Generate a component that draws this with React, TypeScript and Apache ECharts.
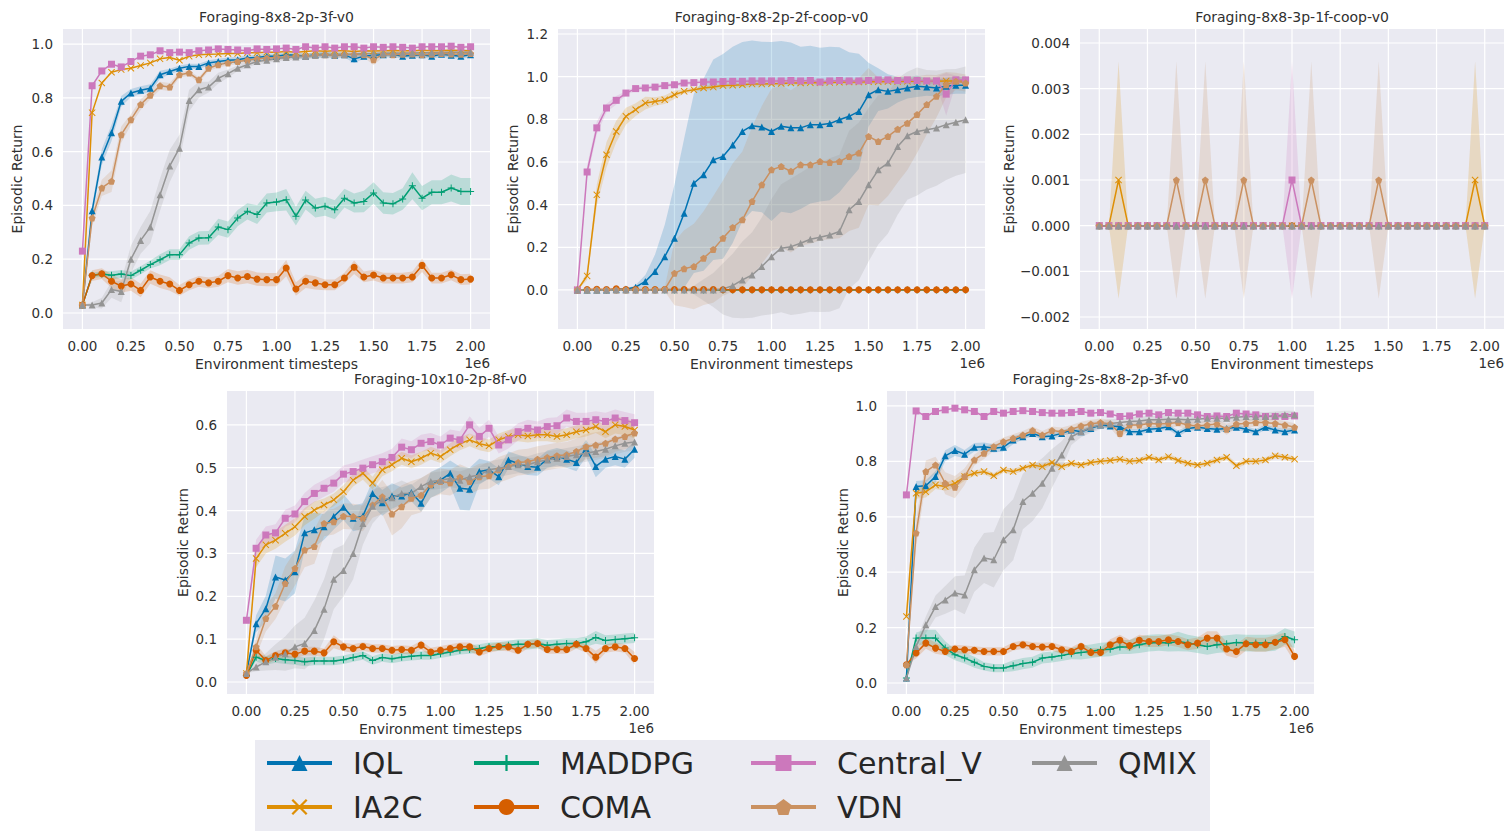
import { useEffect, useRef } from "react";
import * as echarts from "echarts";

const FONT = "'DejaVu Sans', sans-serif";
const TEXT_COLOR = "#303030";

// timesteps (x 1e6)
const STEPS = [0, 0.05, 0.1, 0.15, 0.2, 0.25, 0.3, 0.35, 0.4, 0.45, 0.5, 0.55, 0.6, 0.65, 0.7, 0.75, 0.8, 0.85, 0.9, 0.95, 1.0,
  1.05, 1.1, 1.15, 1.2, 1.25, 1.3, 1.35, 1.4, 1.45, 1.5, 1.55, 1.6, 1.65, 1.7, 1.75, 1.8, 1.85, 1.9, 1.95, 2.0];
const X_TICKS = [0, 0.25, 0.5, 0.75, 1.0, 1.25, 1.5, 1.75, 2.0];
const Y_TICKS_1 = [0, 0.2, 0.4, 0.6, 0.8, 1.0];
const Y_TICKS_2 = [0, 0.2, 0.4, 0.6, 0.8, 1.0, 1.2];
const Y_TICKS_3 = [-0.002, -0.001, 0, 0.001, 0.002, 0.003, 0.004];
const Y_TICKS_4 = [0, 0.1, 0.2, 0.3, 0.4, 0.5, 0.6];
const Y_TICKS_5 = [0, 0.2, 0.4, 0.6, 0.8, 1.0];

const NAMES = ["IQL", "IA2C", "MADDPG", "COMA", "Central_V", "VDN", "QMIX"];
const COLORS: Record<string, string> = {
  IQL: "#0173B2", IA2C: "#DE8F05", MADDPG: "#029E73", COMA: "#D55E00",
  Central_V: "#CC78BC", VDN: "#CA9161", QMIX: "#949494",
};
const SYMBOLS: Record<string, string> = {
  IQL: "triangle",
  IA2C: "path://M1,0L5,4L9,0L10,1L6,5L10,9L9,10L5,6L1,10L0,9L4,5L0,1Z",
  MADDPG: "path://M4.3,0H5.7V4.3H10V5.7H5.7V10H4.3V5.7H0V4.3H4.3Z",
  COMA: "circle",
  Central_V: "rect",
  VDN: "path://M5,0L10,3.8L8.1,10L1.9,10L0,3.8Z",
  QMIX: "triangle",
};

// ---------- Panel 1: Foraging-8x8-2p-3f-v0 ----------
const p1IQL = [0.03, 0.38, 0.58, 0.67, 0.787, 0.818, 0.828, 0.836, 0.886, 0.898, 0.91, 0.917, 0.917, 0.93, 0.935, 0.94, 0.942, 0.948, 0.95, 0.955, 0.955,
  0.96, 0.958, 0.955, 0.96, 0.962, 0.958, 0.96, 0.945, 0.955, 0.958, 0.96, 0.962, 0.955, 0.958, 0.96, 0.955, 0.962, 0.958, 0.955, 0.96];
const p1IA2C = [0.03, 0.745, 0.855, 0.895, 0.905, 0.91, 0.92, 0.93, 0.945, 0.95, 0.94, 0.955, 0.96, 0.962, 0.963, 0.965, 0.965, 0.968, 0.968, 0.97, 0.97,
  0.972, 0.97, 0.972, 0.975, 0.973, 0.975, 0.975, 0.972, 0.975, 0.974, 0.975, 0.976, 0.975, 0.975, 0.977, 0.975, 0.976, 0.977, 0.976, 0.975];
const p1MADDPG = [0.03, 0.14, 0.145, 0.14, 0.145, 0.139, 0.159, 0.18, 0.198, 0.217, 0.217, 0.26, 0.279, 0.28, 0.32, 0.31, 0.353, 0.378, 0.366, 0.409, 0.413,
  0.421, 0.36, 0.42, 0.39, 0.397, 0.384, 0.427, 0.409, 0.415, 0.446, 0.409, 0.406, 0.424, 0.473, 0.427, 0.449, 0.449, 0.465, 0.452, 0.452];
const p1COMA = [0.03, 0.139, 0.146, 0.118, 0.1, 0.108, 0.084, 0.134, 0.118, 0.108, 0.084, 0.105, 0.118, 0.112, 0.118, 0.139, 0.13, 0.136, 0.126, 0.124, 0.124,
  0.167, 0.089, 0.118, 0.112, 0.105, 0.105, 0.13, 0.17, 0.134, 0.141, 0.13, 0.13, 0.13, 0.134, 0.177, 0.13, 0.13, 0.142, 0.124, 0.126];
const p1CentralV = [0.23, 0.845, 0.9, 0.925, 0.915, 0.935, 0.955, 0.96, 0.975, 0.968, 0.97, 0.968, 0.975, 0.978, 0.982, 0.98, 0.978, 0.975, 0.982, 0.98, 0.982,
  0.985, 0.98, 0.99, 0.985, 0.99, 0.985, 0.99, 0.99, 0.985, 0.99, 0.988, 0.99, 0.988, 0.985, 0.99, 0.99, 0.99, 0.992, 0.988, 0.99];
const p1VDN = [0.03, 0.353, 0.465, 0.49, 0.663, 0.719, 0.775, 0.81, 0.845, 0.84, 0.886, 0.892, 0.867, 0.91, 0.923, 0.93, 0.935, 0.94, 0.945, 0.948, 0.95,
  0.952, 0.955, 0.955, 0.958, 0.96, 0.958, 0.96, 0.962, 0.96, 0.942, 0.962, 0.96, 0.962, 0.963, 0.96, 0.962, 0.965, 0.963, 0.962, 0.965];
const p1QMIX = [0.03, 0.03, 0.037, 0.087, 0.08, 0.2, 0.27, 0.32, 0.44, 0.547, 0.613, 0.79, 0.83, 0.84, 0.873, 0.89, 0.91, 0.923, 0.935, 0.94, 0.945,
  0.95, 0.952, 0.955, 0.958, 0.96, 0.962, 0.962, 0.963, 0.965, 0.965, 0.966, 0.966, 0.967, 0.967, 0.968, 0.968, 0.969, 0.97, 0.97, 0.97];
const p1IQL_sd = [0, 0.02, 0.03, 0.03, 0.02, 0.015, 0.015, 0.015, 0.015, 0.01, 0.01, 0.01, 0.01, 0.01, 0.01, 0.01, 0.01, 0.01, 0.01, 0.01, 0.01,
  0.01, 0.01, 0.01, 0.01, 0.01, 0.01, 0.01, 0.015, 0.01, 0.01, 0.01, 0.01, 0.01, 0.01, 0.01, 0.01, 0.01, 0.01, 0.01, 0.01];
const p1MADDPG_sd = [0, 0.01, 0.01, 0.015, 0.015, 0.015, 0.015, 0.015, 0.02, 0.02, 0.02, 0.025, 0.025, 0.025, 0.03, 0.03, 0.03, 0.03, 0.035, 0.035, 0.035,
  0.04, 0.035, 0.035, 0.035, 0.035, 0.035, 0.035, 0.035, 0.04, 0.04, 0.04, 0.04, 0.04, 0.05, 0.045, 0.045, 0.045, 0.05, 0.05, 0.05];
const p1COMA_sd = [0, 0.02, 0.02, 0.025, 0.025, 0.025, 0.025, 0.025, 0.025, 0.025, 0.02, 0.02, 0.02, 0.02, 0.02, 0.025, 0.025, 0.025, 0.025, 0.025, 0.025,
  0.03, 0.025, 0.025, 0.025, 0.02, 0.02, 0.02, 0.025, 0.02, 0.02, 0.02, 0.02, 0.02, 0.02, 0.025, 0.02, 0.02, 0.02, 0.02, 0.02];
const p1VDN_sd = [0, 0.03, 0.03, 0.04, 0.03, 0.02, 0.02, 0.015, 0.015, 0.015, 0.01, 0.01, 0.01, 0.01, 0.01, 0.01, 0.01, 0.01, 0.01, 0.01, 0.01,
  0.01, 0.01, 0.01, 0.01, 0.01, 0.01, 0.01, 0.01, 0.01, 0.02, 0.01, 0.01, 0.01, 0.01, 0.01, 0.01, 0.01, 0.01, 0.01, 0.01];
const p1QMIX_sd = [0, 0.01, 0.02, 0.03, 0.04, 0.05, 0.05, 0.06, 0.06, 0.06, 0.05, 0.04, 0.03, 0.02, 0.02, 0.015, 0.01, 0.01, 0.01, 0.01, 0.01,
  0.01, 0.01, 0.01, 0.01, 0.01, 0.01, 0.01, 0.01, 0.01, 0.01, 0.01, 0.01, 0.01, 0.01, 0.01, 0.01, 0.01, 0.01, 0.01, 0.01];

// ---------- Panel 2: Foraging-8x8-2p-2f-coop-v0 ----------
const p2IQL = [0, 0, 0, 0, 0.003, 0.005, 0.013, 0.04, 0.086, 0.156, 0.243, 0.36, 0.5, 0.54, 0.61, 0.626, 0.68, 0.743, 0.77, 0.764, 0.743,
  0.767, 0.76, 0.76, 0.775, 0.775, 0.78, 0.798, 0.814, 0.837, 0.915, 0.939, 0.931, 0.939, 0.947, 0.955, 0.951, 0.947, 0.955, 0.96, 0.96];
const p2IA2C = [0, 0.066, 0.446, 0.634, 0.743, 0.814, 0.845, 0.876, 0.884, 0.892, 0.915, 0.931, 0.939, 0.947, 0.951, 0.958, 0.96, 0.962, 0.965, 0.965, 0.967,
  0.968, 0.97, 0.97, 0.972, 0.972, 0.973, 0.974, 0.975, 0.975, 0.976, 0.976, 0.977, 0.977, 0.978, 0.978, 0.978, 0.979, 0.98, 0.98, 0.98];
const p2MADDPG = [0, 0, 0, 0, 0, 0, 0, 0, 0, 0, 0, 0, 0, 0, 0, 0, 0, 0, 0, 0, 0,
  0, 0, 0, 0, 0, 0, 0, 0, 0, 0, 0, 0, 0, 0, 0, 0, 0, 0, 0, 0];
const p2COMA = [0, 0.002, 0.003, 0.002, 0.005, 0.002, 0.002, 0.002, 0.002, 0.002, 0.002, 0.002, 0.002, 0.002, 0.002, 0.001, 0.001, 0.001, 0.001, 0.001, 0.001,
  0.001, 0.001, 0.001, 0.001, 0.001, 0.001, 0.001, 0.001, 0.001, 0.001, 0.001, 0.001, 0.001, 0.001, 0.001, 0.001, 0.001, 0.001, 0.001, 0.001];
const p2CentralV = [0, 0.553, 0.76, 0.853, 0.889, 0.923, 0.944, 0.947, 0.951, 0.958, 0.962, 0.97, 0.972, 0.975, 0.975, 0.977, 0.978, 0.978, 0.98, 0.98, 0.98,
  0.98, 0.982, 0.98, 0.982, 0.975, 0.98, 0.982, 0.98, 0.98, 0.982, 0.985, 0.985, 0.982, 0.985, 0.982, 0.98, 0.98, 0.918, 0.985, 0.985];
const p2VDN = [0, 0, 0, 0, 0, 0, 0, 0, 0, 0.003, 0.078, 0.1, 0.11, 0.149, 0.19, 0.243, 0.293, 0.329, 0.415, 0.493, 0.563,
  0.579, 0.556, 0.587, 0.587, 0.602, 0.598, 0.602, 0.626, 0.642, 0.72, 0.696, 0.72, 0.754, 0.782, 0.822, 0.869, 0.908, 0.962, 0.978, 0.97];
const p2QMIX = [0, 0, 0, 0, 0, 0, 0, 0, 0, 0, 0, 0, 0, 0, 0, 0.005, 0.02, 0.047, 0.07, 0.11, 0.156,
  0.196, 0.203, 0.219, 0.238, 0.247, 0.258, 0.274, 0.376, 0.415, 0.493, 0.563, 0.595, 0.673, 0.723, 0.743, 0.751, 0.759, 0.775, 0.786, 0.798];
const p2IQL_sd = [0, 0, 0, 0, 0, 0, 0.01, 0.03, 0.08, 0.15, 0.25, 0.35, 0.42, 0.45, 0.47, 0.48, 0.46, 0.42, 0.4, 0.4, 0.42,
  0.4, 0.4, 0.38, 0.37, 0.36, 0.36, 0.34, 0.3, 0.27, 0.15, 0.1, 0.08, 0.06, 0.05, 0.05, 0.04, 0.04, 0.04, 0.04, 0.04];
const p2IA2C_sd = [0, 0.02, 0.05, 0.06, 0.05, 0.04, 0.03, 0.03, 0.02, 0.02, 0.02, 0.01, 0.01, 0.01, 0.01, 0.01, 0.01, 0.01, 0.01, 0.01, 0.01,
  0.01, 0.01, 0.01, 0.01, 0.01, 0.01, 0.01, 0.01, 0.01, 0.01, 0.01, 0.01, 0.01, 0.01, 0.01, 0.01, 0.01, 0.01, 0.01, 0.01];
const p2CentralV_sd = [0, 0.03, 0.03, 0.02, 0.02, 0.01, 0.01, 0.01, 0.01, 0.01, 0.01, 0.01, 0.01, 0.01, 0.01, 0.01, 0.01, 0.01, 0.01, 0.01, 0.01,
  0.01, 0.01, 0.01, 0.01, 0.01, 0.01, 0.01, 0.01, 0.01, 0.01, 0.01, 0.01, 0.01, 0.01, 0.01, 0.01, 0.02, 0.1, 0.02, 0.01];
const p2VDN_sd = [0, 0, 0, 0, 0, 0, 0, 0, 0, 0.01, 0.15, 0.18, 0.2, 0.22, 0.25, 0.27, 0.3, 0.32, 0.35, 0.37, 0.38,
  0.38, 0.38, 0.38, 0.37, 0.37, 0.36, 0.36, 0.35, 0.35, 0.32, 0.3, 0.28, 0.25, 0.22, 0.18, 0.14, 0.1, 0.06, 0.04, 0.04];
const p2QMIX_sd = [0, 0, 0, 0, 0, 0, 0, 0, 0, 0, 0, 0, 0.02, 0.05, 0.08, 0.12, 0.15, 0.18, 0.2, 0.23, 0.27,
  0.3, 0.32, 0.33, 0.34, 0.35, 0.36, 0.36, 0.37, 0.37, 0.36, 0.35, 0.33, 0.32, 0.3, 0.3, 0.28, 0.27, 0.26, 0.25, 0.25];

// ---------- Panel 3: Foraging-8x8-3p-1f-coop-v0 ----------
const p3IQL = [0, 0, 0, 0, 0, 0, 0, 0, 0, 0, 0, 0, 0, 0, 0, 0, 0, 0, 0, 0, 0,
  0, 0, 0, 0, 0, 0, 0, 0, 0, 0, 0, 0, 0, 0, 0, 0, 0, 0, 0, 0];
const p3IA2C = [0, 0, 0.001, 0, 0, 0, 0, 0, 0, 0, 0, 0, 0, 0, 0, 0, 0, 0, 0, 0, 0,
  0, 0, 0, 0, 0, 0, 0, 0, 0, 0, 0, 0, 0, 0, 0, 0, 0, 0, 0.001, 0];
const p3MADDPG = [0, 0, 0, 0, 0, 0, 0, 0, 0, 0, 0, 0, 0, 0, 0, 0, 0, 0, 0, 0, 0,
  0, 0, 0, 0, 0, 0, 0, 0, 0, 0, 0, 0, 0, 0, 0, 0, 0, 0, 0, 0];
const p3COMA = [0, 0, 0, 0, 0, 0, 0, 0, 0, 0, 0, 0, 0, 0, 0, 0, 0, 0, 0, 0, 0,
  0, 0, 0, 0, 0, 0, 0, 0, 0, 0, 0, 0, 0, 0, 0, 0, 0, 0, 0, 0];
const p3CentralV = [0, 0, 0, 0, 0, 0, 0, 0, 0, 0, 0, 0, 0, 0, 0, 0, 0, 0, 0, 0, 0.001,
  0, 0, 0, 0, 0, 0, 0, 0, 0, 0, 0, 0, 0, 0, 0, 0, 0, 0, 0, 0];
const p3VDN = [0, 0, 0, 0, 0, 0, 0, 0, 0.001, 0, 0, 0.001, 0, 0, 0, 0.001, 0, 0, 0, 0, 0,
  0, 0.001, 0, 0, 0, 0, 0, 0, 0.001, 0, 0, 0, 0, 0, 0, 0, 0, 0, 0, 0];
const p3QMIX = [0, 0, 0, 0, 0, 0, 0, 0, 0, 0, 0, 0, 0, 0, 0, 0, 0, 0, 0, 0, 0,
  0, 0, 0, 0, 0, 0, 0, 0, 0, 0, 0, 0, 0, 0, 0, 0, 0, 0, 0, 0];
const p3IA2C_sd = [0, 0, 0.0026, 0, 0, 0, 0, 0, 0, 0, 0, 0, 0, 0, 0, 0, 0, 0, 0, 0, 0,
  0, 0, 0, 0, 0, 0, 0, 0, 0, 0, 0, 0, 0, 0, 0, 0, 0, 0, 0.0026, 0];
const p3CentralV_sd = [0, 0, 0, 0, 0, 0, 0, 0, 0, 0, 0, 0, 0, 0, 0, 0, 0, 0, 0, 0, 0.0026,
  0, 0, 0, 0, 0, 0, 0, 0, 0, 0, 0, 0, 0, 0, 0, 0, 0, 0, 0, 0];
const p3VDN_sd = [0, 0, 0, 0, 0, 0, 0, 0, 0.0026, 0, 0, 0.0026, 0, 0, 0, 0.0026, 0, 0, 0, 0, 0,
  0, 0.0026, 0, 0, 0, 0, 0, 0, 0.0026, 0, 0, 0, 0, 0, 0, 0, 0, 0, 0, 0];

// ---------- Panel 4: Foraging-10x10-2p-8f-v0 ----------
const p4IQL = [0.02, 0.136, 0.171, 0.245, 0.238, 0.257, 0.348, 0.355, 0.362, 0.386, 0.408, 0.382, 0.387, 0.44, 0.418, 0.434, 0.434, 0.442, 0.417, 0.46, 0.471,
  0.487, 0.452, 0.45, 0.491, 0.495, 0.479, 0.518, 0.51, 0.503, 0.501, 0.52, 0.526, 0.52, 0.512, 0.545, 0.503, 0.52, 0.526, 0.52, 0.543];
const p4IA2C = [0.02, 0.288, 0.32, 0.331, 0.347, 0.362, 0.386, 0.401, 0.413, 0.425, 0.444, 0.471, 0.487, 0.464, 0.495, 0.507, 0.522, 0.514, 0.522, 0.534, 0.526,
  0.542, 0.556, 0.565, 0.556, 0.551, 0.565, 0.573, 0.577, 0.574, 0.577, 0.577, 0.573, 0.577, 0.584, 0.588, 0.596, 0.584, 0.6, 0.596, 0.588];
const p4MADDPG = [0.015, 0.058, 0.05, 0.055, 0.052, 0.05, 0.047, 0.049, 0.049, 0.049, 0.052, 0.057, 0.062, 0.05, 0.057, 0.054, 0.058, 0.06, 0.062, 0.062, 0.066,
  0.07, 0.074, 0.076, 0.078, 0.082, 0.083, 0.086, 0.088, 0.088, 0.09, 0.086, 0.088, 0.09, 0.09, 0.094, 0.104, 0.097, 0.099, 0.101, 0.103];
const p4COMA = [0.015, 0.074, 0.05, 0.062, 0.068, 0.065, 0.072, 0.072, 0.068, 0.094, 0.082, 0.078, 0.083, 0.078, 0.078, 0.074, 0.076, 0.074, 0.086, 0.07, 0.074,
  0.078, 0.082, 0.082, 0.07, 0.078, 0.083, 0.082, 0.074, 0.088, 0.09, 0.076, 0.076, 0.076, 0.088, 0.078, 0.058, 0.078, 0.082, 0.078, 0.055];
const p4CentralV = [0.144, 0.312, 0.343, 0.348, 0.382, 0.392, 0.421, 0.44, 0.452, 0.464, 0.485, 0.491, 0.499, 0.507, 0.514, 0.524, 0.548, 0.542, 0.557, 0.561, 0.553,
  0.569, 0.565, 0.6, 0.573, 0.592, 0.553, 0.565, 0.584, 0.592, 0.588, 0.596, 0.598, 0.616, 0.608, 0.608, 0.612, 0.608, 0.616, 0.61, 0.605];
const p4VDN = [0.02, 0.082, 0.148, 0.177, 0.23, 0.265, 0.308, 0.316, 0.37, 0.374, 0.387, 0.386, 0.382, 0.413, 0.432, 0.392, 0.409, 0.429, 0.436, 0.46, 0.468,
  0.465, 0.478, 0.468, 0.479, 0.481, 0.495, 0.503, 0.512, 0.514, 0.52, 0.524, 0.528, 0.53, 0.538, 0.549, 0.553, 0.557, 0.567, 0.573, 0.581];
const p4QMIX = [0.02, 0.035, 0.047, 0.058, 0.066, 0.082, 0.09, 0.12, 0.17, 0.24, 0.26, 0.3, 0.37, 0.41, 0.425, 0.43, 0.44, 0.44, 0.456, 0.468, 0.471,
  0.475, 0.471, 0.479, 0.483, 0.495, 0.499, 0.503, 0.507, 0.507, 0.514, 0.518, 0.522, 0.526, 0.53, 0.534, 0.538, 0.543, 0.551, 0.557, 0.56];
const p4IQL_sd = [0, 0.02, 0.03, 0.05, 0.05, 0.05, 0.04, 0.04, 0.03, 0.03, 0.03, 0.03, 0.03, 0.03, 0.03, 0.03, 0.02, 0.02, 0.02, 0.03, 0.03,
  0.03, 0.05, 0.05, 0.03, 0.02, 0.02, 0.02, 0.02, 0.02, 0.02, 0.02, 0.02, 0.02, 0.02, 0.02, 0.025, 0.02, 0.02, 0.02, 0.02];
const p4IA2C_sd = [0, 0.02, 0.02, 0.02, 0.02, 0.02, 0.02, 0.02, 0.015, 0.015, 0.015, 0.015, 0.015, 0.015, 0.015, 0.015, 0.015, 0.015, 0.015, 0.015, 0.015,
  0.015, 0.015, 0.015, 0.015, 0.015, 0.015, 0.015, 0.015, 0.015, 0.015, 0.015, 0.015, 0.015, 0.015, 0.015, 0.015, 0.015, 0.02, 0.02, 0.02];
const p4MADDPG_sd = [0, 0.01, 0.01, 0.01, 0.01, 0.01, 0.01, 0.01, 0.01, 0.01, 0.01, 0.01, 0.01, 0.01, 0.01, 0.01, 0.01, 0.01, 0.01, 0.01, 0.01,
  0.01, 0.01, 0.01, 0.01, 0.01, 0.01, 0.01, 0.012, 0.012, 0.012, 0.012, 0.012, 0.012, 0.012, 0.012, 0.015, 0.012, 0.012, 0.012, 0.012];
const p4COMA_sd = [0, 0.015, 0.01, 0.01, 0.01, 0.01, 0.01, 0.01, 0.01, 0.015, 0.01, 0.01, 0.01, 0.01, 0.01, 0.01, 0.01, 0.01, 0.01, 0.01, 0.01,
  0.01, 0.01, 0.01, 0.01, 0.01, 0.01, 0.01, 0.01, 0.01, 0.01, 0.01, 0.01, 0.01, 0.01, 0.01, 0.015, 0.01, 0.01, 0.01, 0.015];
const p4CentralV_sd = [0, 0.02, 0.02, 0.02, 0.02, 0.02, 0.02, 0.02, 0.02, 0.02, 0.02, 0.02, 0.02, 0.02, 0.02, 0.02, 0.02, 0.02, 0.02, 0.02, 0.02,
  0.02, 0.02, 0.02, 0.02, 0.02, 0.02, 0.02, 0.02, 0.02, 0.02, 0.02, 0.02, 0.02, 0.02, 0.02, 0.02, 0.02, 0.02, 0.02, 0.02];
const p4VDN_sd = [0, 0.02, 0.03, 0.03, 0.04, 0.04, 0.04, 0.04, 0.03, 0.03, 0.03, 0.03, 0.03, 0.03, 0.04, 0.05, 0.05, 0.04, 0.04, 0.03, 0.03,
  0.03, 0.03, 0.03, 0.03, 0.03, 0.03, 0.03, 0.03, 0.03, 0.03, 0.03, 0.03, 0.03, 0.03, 0.03, 0.03, 0.03, 0.03, 0.03, 0.03];
const p4QMIX_sd = [0, 0.01, 0.02, 0.03, 0.04, 0.05, 0.06, 0.07, 0.07, 0.07, 0.06, 0.06, 0.05, 0.04, 0.03, 0.03, 0.03, 0.02, 0.02, 0.02, 0.02,
  0.02, 0.02, 0.02, 0.02, 0.02, 0.02, 0.02, 0.02, 0.02, 0.02, 0.02, 0.02, 0.02, 0.02, 0.02, 0.02, 0.02, 0.02, 0.02, 0.02];

// ---------- Panel 5: Foraging-2s-8x8-2p-3f-v0 ----------
const p5IQL = [0.018, 0.709, 0.712, 0.745, 0.82, 0.839, 0.826, 0.851, 0.853, 0.847, 0.851, 0.877, 0.889, 0.901, 0.889, 0.892, 0.901, 0.913, 0.907, 0.919, 0.931,
  0.928, 0.925, 0.907, 0.907, 0.916, 0.919, 0.925, 0.901, 0.919, 0.923, 0.919, 0.916, 0.919, 0.923, 0.916, 0.907, 0.923, 0.913, 0.907, 0.913];
const p5IA2C = [0.24, 0.685, 0.69, 0.715, 0.709, 0.72, 0.745, 0.757, 0.763, 0.748, 0.769, 0.763, 0.775, 0.787, 0.781, 0.796, 0.781, 0.793, 0.787, 0.796, 0.8,
  0.803, 0.808, 0.8, 0.803, 0.815, 0.805, 0.817, 0.803, 0.793, 0.787, 0.793, 0.805, 0.815, 0.784, 0.8, 0.8, 0.805, 0.82, 0.815, 0.808];
const p5MADDPG = [0.018, 0.162, 0.162, 0.162, 0.126, 0.102, 0.09, 0.075, 0.06, 0.054, 0.054, 0.062, 0.07, 0.075, 0.09, 0.094, 0.099, 0.106, 0.11, 0.114, 0.12,
  0.122, 0.13, 0.13, 0.138, 0.144, 0.146, 0.144, 0.15, 0.144, 0.138, 0.132, 0.138, 0.142, 0.146, 0.144, 0.144, 0.144, 0.146, 0.168, 0.156];
const p5COMA = [0.066, 0.108, 0.144, 0.126, 0.114, 0.123, 0.12, 0.118, 0.114, 0.114, 0.114, 0.132, 0.138, 0.132, 0.13, 0.132, 0.12, 0.114, 0.132, 0.11, 0.11,
  0.138, 0.154, 0.135, 0.154, 0.15, 0.15, 0.156, 0.15, 0.138, 0.144, 0.162, 0.162, 0.123, 0.114, 0.142, 0.138, 0.138, 0.147, 0.156, 0.096];
const p5CentralV = [0.679, 0.982, 0.962, 0.98, 0.986, 0.992, 0.986, 0.98, 0.962, 0.98, 0.974, 0.98, 0.983, 0.98, 0.976, 0.974, 0.974, 0.976, 0.98, 0.974, 0.976,
  0.971, 0.962, 0.964, 0.971, 0.974, 0.968, 0.976, 0.974, 0.974, 0.968, 0.962, 0.964, 0.962, 0.974, 0.971, 0.968, 0.962, 0.962, 0.962, 0.964];
const p5VDN = [0.066, 0.541, 0.763, 0.787, 0.721, 0.707, 0.745, 0.805, 0.829, 0.853, 0.871, 0.883, 0.895, 0.911, 0.895, 0.911, 0.907, 0.916, 0.928, 0.935, 0.94,
  0.935, 0.901, 0.931, 0.931, 0.937, 0.935, 0.937, 0.94, 0.931, 0.928, 0.931, 0.935, 0.916, 0.935, 0.937, 0.94, 0.94, 0.937, 0.931, 0.923];
const p5QMIX = [0.018, 0.132, 0.21, 0.276, 0.3, 0.325, 0.318, 0.409, 0.451, 0.445, 0.517, 0.553, 0.655, 0.685, 0.721, 0.775, 0.823, 0.889, 0.907, 0.923, 0.931,
  0.937, 0.94, 0.944, 0.946, 0.95, 0.95, 0.952, 0.952, 0.95, 0.952, 0.956, 0.956, 0.956, 0.959, 0.962, 0.962, 0.962, 0.965, 0.968, 0.968];
const p5IQL_sd = [0, 0.02, 0.02, 0.02, 0.02, 0.02, 0.015, 0.015, 0.015, 0.015, 0.015, 0.015, 0.01, 0.01, 0.01, 0.01, 0.01, 0.01, 0.01, 0.01, 0.01,
  0.01, 0.01, 0.01, 0.01, 0.01, 0.01, 0.01, 0.01, 0.01, 0.01, 0.01, 0.01, 0.01, 0.01, 0.01, 0.01, 0.01, 0.01, 0.01, 0.01];
const p5IA2C_sd = [0.05, 0.02, 0.02, 0.015, 0.015, 0.015, 0.015, 0.01, 0.01, 0.01, 0.01, 0.01, 0.01, 0.01, 0.01, 0.01, 0.01, 0.01, 0.01, 0.01, 0.01,
  0.01, 0.01, 0.01, 0.01, 0.01, 0.01, 0.01, 0.01, 0.01, 0.01, 0.01, 0.01, 0.01, 0.01, 0.01, 0.01, 0.01, 0.01, 0.01, 0.01];
const p5MADDPG_sd = [0, 0.02, 0.03, 0.03, 0.025, 0.02, 0.02, 0.02, 0.015, 0.015, 0.015, 0.02, 0.02, 0.02, 0.02, 0.02, 0.02, 0.02, 0.025, 0.025, 0.025,
  0.025, 0.025, 0.025, 0.03, 0.03, 0.03, 0.03, 0.035, 0.03, 0.03, 0.03, 0.03, 0.03, 0.03, 0.03, 0.03, 0.03, 0.03, 0.03, 0.03];
const p5COMA_sd = [0, 0.02, 0.02, 0.02, 0.015, 0.015, 0.015, 0.015, 0.015, 0.015, 0.015, 0.015, 0.015, 0.015, 0.015, 0.015, 0.015, 0.015, 0.015, 0.015, 0.015,
  0.02, 0.02, 0.02, 0.02, 0.02, 0.02, 0.02, 0.02, 0.02, 0.02, 0.025, 0.025, 0.025, 0.025, 0.025, 0.025, 0.025, 0.025, 0.025, 0.02];
const p5VDN_sd = [0, 0.05, 0.04, 0.03, 0.04, 0.04, 0.03, 0.02, 0.02, 0.015, 0.015, 0.015, 0.015, 0.015, 0.015, 0.015, 0.015, 0.015, 0.015, 0.015, 0.015,
  0.015, 0.02, 0.015, 0.015, 0.015, 0.015, 0.015, 0.015, 0.015, 0.015, 0.015, 0.015, 0.02, 0.015, 0.015, 0.015, 0.015, 0.015, 0.015, 0.015];
const p5QMIX_sd = [0, 0.02, 0.03, 0.04, 0.05, 0.06, 0.07, 0.08, 0.09, 0.1, 0.11, 0.11, 0.1, 0.1, 0.09, 0.07, 0.05, 0.03, 0.02, 0.02, 0.015,
  0.015, 0.015, 0.015, 0.015, 0.015, 0.015, 0.015, 0.015, 0.015, 0.015, 0.015, 0.015, 0.015, 0.015, 0.015, 0.015, 0.015, 0.015, 0.015, 0.015];

type Panel = {
  title: string; left: number; top: number; width: number; height: number;
  yMin: number; yMax: number; yTicks: number[]; dec: number; yNameGap: number;
  values: Record<string, number[]>; spreads: Record<string, number[]>;
};

const PANELS: Panel[] = [
  {
    title: "Foraging-8x8-2p-3f-v0", left: 63, top: 29, width: 427, height: 300,
    yMin: -0.0595, yMax: 1.056, yTicks: Y_TICKS_1, dec: 1, yNameGap: 39,
    values: { IQL: p1IQL, IA2C: p1IA2C, MADDPG: p1MADDPG, COMA: p1COMA, Central_V: p1CentralV, VDN: p1VDN, QMIX: p1QMIX },
    spreads: { IQL: p1IQL_sd, MADDPG: p1MADDPG_sd, COMA: p1COMA_sd, VDN: p1VDN_sd, QMIX: p1QMIX_sd },
  },
  {
    title: "Foraging-8x8-2p-2f-coop-v0", left: 558, top: 29, width: 427, height: 300,
    yMin: -0.183, yMax: 1.2234, yTicks: Y_TICKS_2, dec: 1, yNameGap: 38,
    values: { IQL: p2IQL, IA2C: p2IA2C, MADDPG: p2MADDPG, COMA: p2COMA, Central_V: p2CentralV, VDN: p2VDN, QMIX: p2QMIX },
    spreads: { IQL: p2IQL_sd, IA2C: p2IA2C_sd, Central_V: p2CentralV_sd, VDN: p2VDN_sd, QMIX: p2QMIX_sd },
  },
  {
    title: "Foraging-8x8-3p-1f-coop-v0", left: 1080, top: 29, width: 424, height: 300,
    yMin: -0.002263, yMax: 0.004307, yTicks: Y_TICKS_3, dec: 3, yNameGap: 62,
    values: { IQL: p3IQL, IA2C: p3IA2C, MADDPG: p3MADDPG, COMA: p3COMA, Central_V: p3CentralV, VDN: p3VDN, QMIX: p3QMIX },
    spreads: { IA2C: p3IA2C_sd, Central_V: p3CentralV_sd, VDN: p3VDN_sd },
  },
  {
    title: "Foraging-10x10-2p-8f-v0", left: 227, top: 391, width: 427, height: 303,
    yMin: -0.028, yMax: 0.679, yTicks: Y_TICKS_4, dec: 1, yNameGap: 37,
    values: { IQL: p4IQL, IA2C: p4IA2C, MADDPG: p4MADDPG, COMA: p4COMA, Central_V: p4CentralV, VDN: p4VDN, QMIX: p4QMIX },
    spreads: { IQL: p4IQL_sd, IA2C: p4IA2C_sd, MADDPG: p4MADDPG_sd, COMA: p4COMA_sd, Central_V: p4CentralV_sd, VDN: p4VDN_sd, QMIX: p4QMIX_sd },
  },
  {
    title: "Foraging-2s-8x8-2p-3f-v0", left: 887, top: 391, width: 427, height: 303,
    yMin: -0.0397, yMax: 1.054, yTicks: Y_TICKS_5, dec: 1, yNameGap: 37,
    values: { IQL: p5IQL, IA2C: p5IA2C, MADDPG: p5MADDPG, COMA: p5COMA, Central_V: p5CentralV, VDN: p5VDN, QMIX: p5QMIX },
    spreads: { IQL: p5IQL_sd, IA2C: p5IA2C_sd, MADDPG: p5MADDPG_sd, COMA: p5COMA_sd, VDN: p5VDN_sd, QMIX: p5QMIX_sd },
  },
];

const X_MIN = -0.1;
const X_MAX = 2.1;

const LEGEND_COLUMNS = [["IQL", "IA2C"], ["MADDPG", "COMA"], ["Central_V", "VDN"], ["QMIX"]];
const LEGEND_LEFT = [265, 472, 749, 1030];

function fmtY(v: number, dec: number) {
  const s = Math.abs(v).toFixed(dec);
  return v < -1e-12 ? "\u2212" + s : s;
}

function buildOption() {
  const grid: any[] = [];
  const xAxis: any[] = [];
  const yAxis: any[] = [];
  const series: any[] = [];
  const graphic: any[] = [];

  graphic.push({
    type: "rect", z: 0, silent: true,
    shape: { x: 255, y: 740, width: 955, height: 100 },
    style: { fill: "#EBEBF2" },
  });

  PANELS.forEach((p, pi) => {
    grid.push({
      left: p.left, top: p.top, width: p.width, height: p.height,
      show: true, backgroundColor: "#EAEAF2", borderWidth: 0, containLabel: false,
    });
    xAxis.push({
      type: "value", gridIndex: pi, min: X_MIN, max: X_MAX,
      axisLine: { show: false }, axisTick: { show: false }, splitLine: { show: false },
      axisLabel: {
        customValues: X_TICKS, margin: 10, fontSize: 13.5, color: TEXT_COLOR, fontFamily: FONT,
        formatter: (v: number) => v.toFixed(2),
      },
      name: "Environment timesteps", nameLocation: "middle", nameGap: 28,
      nameTextStyle: { fontSize: 14, color: TEXT_COLOR, fontFamily: FONT },
    });
    yAxis.push({
      type: "value", gridIndex: pi, min: p.yMin, max: p.yMax,
      axisLine: { show: false }, axisTick: { show: false }, splitLine: { show: false },
      axisLabel: {
        customValues: p.yTicks, margin: 10, fontSize: 13.5, color: TEXT_COLOR, fontFamily: FONT,
        formatter: (v: number) => fmtY(v, p.dec),
      },
      name: "Episodic Return", nameLocation: "middle", nameGap: p.yNameGap,
      nameTextStyle: { fontSize: 14, color: TEXT_COLOR, fontFamily: FONT },
    });

    // white grid lines
    series.push({
      type: "custom", xAxisIndex: pi, yAxisIndex: pi, silent: true, z: 1, clip: false,
      data: [[0, 0]],
      renderItem: (_params: any, api: any) => {
        const children: any[] = [];
        X_TICKS.forEach((t) => {
          const a = api.coord([t, p.yMin]);
          const b = api.coord([t, p.yMax]);
          children.push({ type: "line", shape: { x1: a[0], y1: a[1], x2: b[0], y2: b[1] }, style: { stroke: "#ffffff", lineWidth: 1.2 } });
        });
        p.yTicks.forEach((t) => {
          const a = api.coord([X_MIN, t]);
          const b = api.coord([X_MAX, t]);
          children.push({ type: "line", shape: { x1: a[0], y1: a[1], x2: b[0], y2: b[1] }, style: { stroke: "#ffffff", lineWidth: 1.2 } });
        });
        return { type: "group", children };
      },
    });

    // confidence bands
    NAMES.forEach((name) => {
      const vals = p.values[name];
      const sd = p.spreads[name];
      if (!sd) return;
      const fill = echarts.color.modifyAlpha(COLORS[name], 0.2);
      series.push({
        type: "custom", name: name + " band", xAxisIndex: pi, yAxisIndex: pi, silent: true, z: 2, clip: true,
        data: [[0, 0]],
        renderItem: (_params: any, api: any) => {
          const up = STEPS.map((x, k) => api.coord([x, vals[k] + sd[k]]));
          const lo = STEPS.map((x, k) => api.coord([x, vals[k] - sd[k]])).reverse();
          return { type: "polygon", shape: { points: up.concat(lo) }, style: { fill } };
        },
      });
    });

    // lines
    NAMES.forEach((name) => {
      const vals = p.values[name];
      series.push({
        type: "line", name, xAxisIndex: pi, yAxisIndex: pi, z: 3,
        data: STEPS.map((x, k) => [x, vals[k]]),
        symbol: SYMBOLS[name], symbolSize: 7, showSymbol: true,
        lineStyle: { width: 1.5, color: COLORS[name] },
        itemStyle: { color: COLORS[name] },
        emphasis: { disabled: true },
      });
    });

    graphic.push({
      type: "text", x: p.left + p.width / 2, y: p.top - 12, silent: true,
      style: {
        text: p.title, fontSize: 14, fontFamily: FONT, fill: TEXT_COLOR,
        align: "center", verticalAlign: "middle", textAlign: "center", textVerticalAlign: "middle",
      },
    });
    graphic.push({
      type: "text", x: p.left + p.width, y: p.top + p.height + 34, silent: true,
      style: {
        text: "1e6", fontSize: 13.5, fontFamily: FONT, fill: TEXT_COLOR,
        align: "right", verticalAlign: "middle", textAlign: "right", textVerticalAlign: "middle",
      },
    });
  });

  const legend = LEGEND_COLUMNS.map((names, i) => ({
    orient: "vertical", left: LEGEND_LEFT[i], top: 748, padding: 0,
    itemWidth: 65, itemHeight: 20, itemGap: 14,
    data: names, selectedMode: false,
    lineStyle: { width: 4 },
    textStyle: { fontSize: 30, color: "#262626", fontFamily: FONT, padding: [0, 0, 0, 16] },
  }));

  return {
    animation: false,
    backgroundColor: "#ffffff",
    grid, xAxis, yAxis, series, legend, graphic,
  };
}

export default function App() {
  const ref = useRef<HTMLDivElement>(null);
  useEffect(() => {
    if (!ref.current) return;
    const chart = echarts.init(ref.current, undefined, { renderer: "svg" });
    chart.setOption(buildOption() as any);
    return () => chart.dispose();
  }, []);
  return (
    <div
      ref={ref}
      style={{ position: "absolute", left: 0, top: 0, width: 1506, height: 831, background: "#fff" }}
    />
  );
}
